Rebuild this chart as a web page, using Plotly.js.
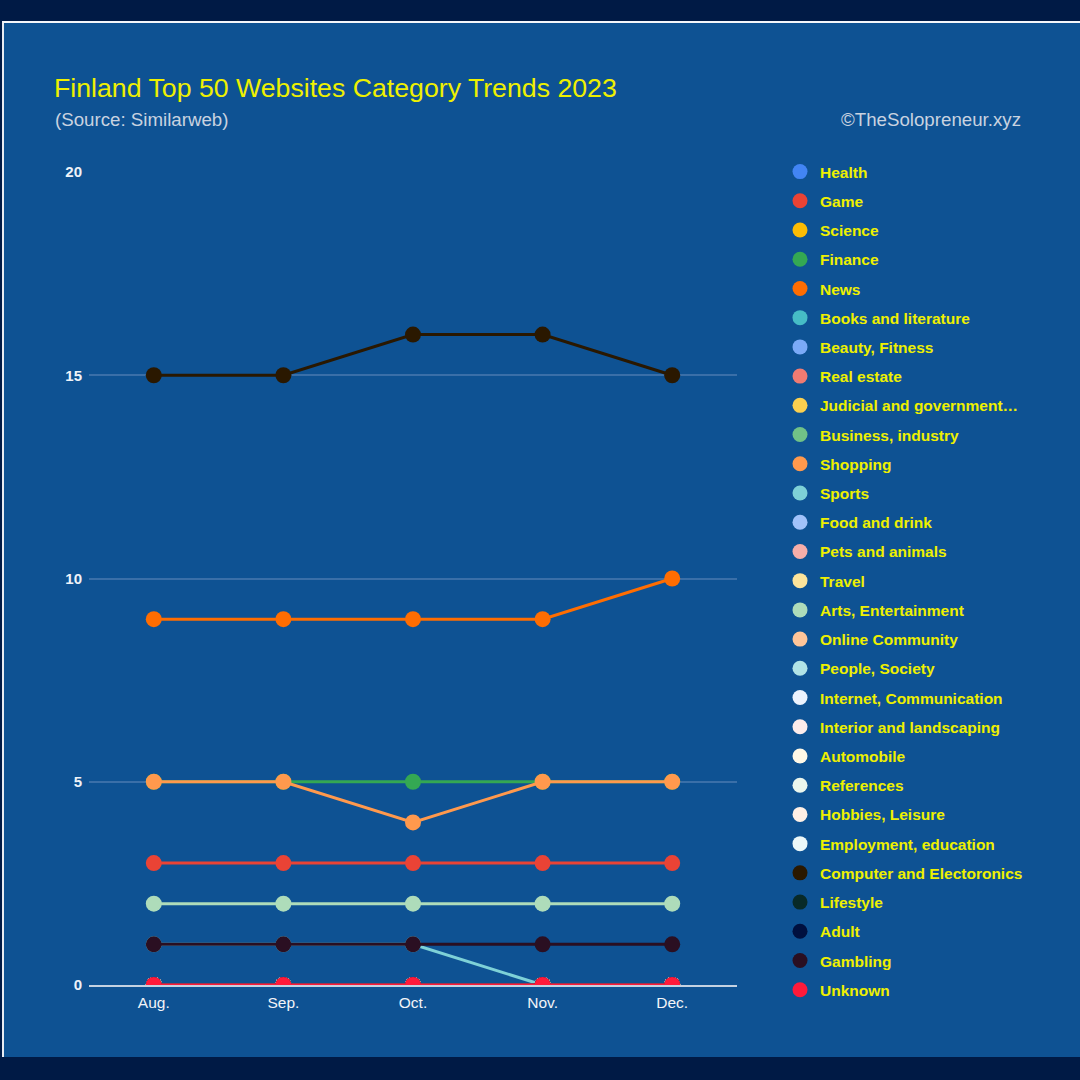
<!DOCTYPE html>
<html>
<head>
<meta charset="utf-8">
<script src="https://cdn.plot.ly/plotly-3.0.1.min.js"></script>
<style>
  html, body { margin: 0; padding: 0; background: #001a45; width: 1080px; height: 1080px; overflow: hidden; }
  #panel { position: absolute; left: 2px; top: 21px; width: 1078px; height: 1036px; background: #0e5293;
           border-top: 2px solid #f4f6fa; border-left: 2px solid #e8ecf2; box-sizing: border-box; }
  #chart { position: absolute; left: 0; top: 0; width: 1080px; height: 1080px; }
</style>
</head>
<body>
<div id="panel"></div>
<div id="chart"></div>
<script>
// ---- data ----
const months = ['Aug.', 'Sep.', 'Oct.', 'Nov.', 'Dec.'];

const categories = [
  'Health', 'Game', 'Science', 'Finance', 'News', 'Books and literature',
  'Beauty, Fitness', 'Real estate', 'Judicial and government…', 'Business, industry',
  'Shopping', 'Sports', 'Food and drink', 'Pets and animals', 'Travel',
  'Arts, Entertainment', 'Online Community', 'People, Society',
  'Internet, Communication', 'Interior and landscaping', 'Automobile', 'References',
  'Hobbies, Leisure', 'Employment, education', 'Computer and Electoronics',
  'Lifestyle', 'Adult', 'Gambling', 'Unknown'
];

const health      = [0, 0, 0, 0, 0];
const game        = [3, 3, 3, 3, 3];
const science     = [0, 0, 0, 0, 0];
const finance     = [5, 5, 5, 5, 5];
const news        = [9, 9, 9, 9, 10];
const books       = [0, 0, 0, 0, 0];
const beauty      = [0, 0, 0, 0, 0];
const realEstate  = [0, 0, 0, 0, 0];
const judicial    = [0, 0, 0, 0, 0];
const business    = [0, 0, 0, 0, 0];
const shopping    = [5, 5, 4, 5, 5];
const sports      = [1, 1, 1, 0, 0];
const food        = [0, 0, 0, 0, 0];
const pets        = [0, 0, 0, 0, 0];
const travel      = [0, 0, 0, 0, 0];
const arts        = [2, 2, 2, 2, 2];
const online      = [0, 0, 0, 0, 0];
const people      = [0, 0, 0, 0, 0];
const internet    = [0, 0, 0, 0, 0];
const interior    = [0, 0, 0, 0, 0];
const automobile  = [0, 0, 0, 0, 0];
const references  = [0, 0, 0, 0, 0];
const hobbies     = [0, 0, 0, 0, 0];
const employment  = [0, 0, 0, 0, 0];
const computer    = [15, 15, 16, 16, 15];
const lifestyle   = [0, 0, 0, 0, 0];
const adult       = [0, 0, 0, 0, 0];
const gambling    = [1, 1, 1, 1, 1];
const unknown     = [0, 0, 0, 0, 0];

const seriesValues = [health, game, science, finance, news, books, beauty, realEstate,
  judicial, business, shopping, sports, food, pets, travel, arts, online, people,
  internet, interior, automobile, references, hobbies, employment, computer,
  lifestyle, adult, gambling, unknown];

// ---- styles ----
const colors = [
  '#4285f4', '#ea4335', '#fbbc04', '#34a853', '#ff6d01', '#46bdc6',
  '#7baaf7', '#f07b72', '#fcd04f', '#71c287', '#ff994d', '#7ed1d7',
  '#a1c2fa', '#f6aea9', '#fde49b', '#aedcba', '#ffc599', '#b1e3e6',
  '#ecf3fe', '#fdeceb', '#fff8e6', '#eaf6ed', '#fff0e6', '#ecf8f9',
  '#2a1800', '#082a28', '#00103f', '#2a0f22', '#ff1a3a'
];

const traces = [];
categories.forEach((name, i) => {
  traces.push({
    type: 'scatter', mode: 'lines+markers', name: name,
    x: months, y: seriesValues[i],
    line: { color: colors[i], width: 3 },
    marker: { color: colors[i], size: 16 },
    legendgroup: 'g' + i, showlegend: false, hoverinfo: 'skip', cliponaxis: true
  });
});
categories.forEach((name, i) => {
  traces.push({
    type: 'scatter', mode: 'markers', name: name,
    x: [null], y: [null],
    marker: { color: colors[i], size: 15 },
    legendgroup: 'g' + i, showlegend: true, hoverinfo: 'skip'
  });
});

const sans = 'Arial, "Liberation Sans", sans-serif';

const layout = {
  width: 1080, height: 1080,
  paper_bgcolor: 'rgba(0,0,0,0)', plot_bgcolor: 'rgba(0,0,0,0)',
  margin: { l: 89, r: 343, t: 172, b: 95 },
  title: {
    text: 'Finland Top 50 Websites Category Trends 2023',
    xref: 'container', yref: 'container', x: 54 / 1080, xanchor: 'left',
    y: 1 - 88 / 1080, yanchor: 'middle',
    font: { family: sans, size: 26.7, color: '#eef000' }
  },
  annotations: [
    { text: '(Source: Similarweb)', xref: 'paper', yref: 'paper',
      x: (53 - 89) / 648, y: (985 - 120) / 813, xanchor: 'left', yanchor: 'middle',
      showarrow: false, font: { family: sans, size: 18.7, color: '#c9d3e0' } },
    { text: '©TheSolopreneur.xyz', xref: 'paper', yref: 'paper',
      x: (1023 - 89) / 648, y: (985 - 120) / 813, xanchor: 'right', yanchor: 'middle',
      showarrow: false, font: { family: sans, size: 18.7, color: '#c9d3e0' } }
  ],
  xaxis: {
    type: 'category', range: [-0.5, 4.5],
    showgrid: false, zeroline: false,
    showline: true, linecolor: '#c4d2e2', linewidth: 2, layer: 'below traces',
    ticks: '', ticklabelstandoff: 2,
    tickfont: { family: sans, size: 15.5, color: '#f2f4f8' },
    fixedrange: true
  },
  yaxis: {
    range: [0, 20], tickvals: [0, 5, 10, 15, 20], ticktext: ['0', '5', '10', '15', '20'],
    showgrid: true, gridcolor: '#3a6fa8', gridwidth: 2, zeroline: false,
    showline: false, ticks: '', ticklabelstandoff: 6,
    tickfont: { family: sans, size: 15, color: '#eef2f8', weight: 'bold' },
    fixedrange: true, layer: 'below traces'
  },
  showlegend: true,
  legend: {
    x: (780 - 89) / 648, xanchor: 'left', y: (985 - 155) / 813, yanchor: 'top',
    bgcolor: 'rgba(0,0,0,0)', borderwidth: 0, maxheight: 1000,
    traceorder: 'grouped', tracegroupgap: 6.07,
    font: { family: sans, size: 15.5, color: '#eef000', weight: 'bold' },
    itemclick: false, itemdoubleclick: false
  },
  hovermode: false
};

Plotly.newPlot('chart', traces, layout, { displayModeBar: false, staticPlot: true });
</script>
</body>
</html>
